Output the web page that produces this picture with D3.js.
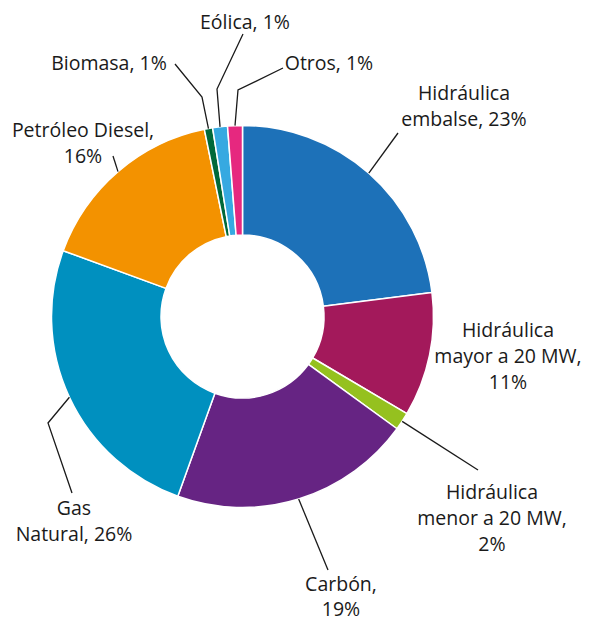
<!DOCTYPE html>
<html>
<head>
<meta charset="utf-8">
<script src="https://cdn.jsdelivr.net/npm/d3@7"></script>
<style>
  body { margin: 0; background: #fff; }
  svg text { font-family: "Open Sans", "Noto Sans", sans-serif; font-size: 19.5px; fill: #1a1a1a; }
</style>
</head>
<body>
<svg width="591" height="622"></svg>
<script>
// slices, clockwise from 12 o'clock
var categories = ["Hidráulica embalse", "Hidráulica mayor a 20 MW", "Hidráulica menor a 20 MW",
  "Carbón", "Gas Natural", "Petróleo Diesel", "Biomasa", "Eólica", "Otros"];
// share of each slice (%)
var shares = [23.0, 10.5, 1.5, 20.5, 25.1, 16.2, 0.7, 1.25, 1.25];
// percentages printed in the labels
var pctLabels = ["23%", "11%", "2%", "19%", "26%", "16%", "1%", "1%", "1%"];
// label lines as printed
var labelLines = [
  ["Hidráulica", "embalse, 23%"],
  ["Hidráulica", "mayor a 20 MW,", "11%"],
  ["Hidráulica", "menor a 20 MW,", "2%"],
  ["Carbón,", "19%"],
  ["Gas", "Natural, 26%"],
  ["Petróleo Diesel,", "16%"],
  ["Biomasa, 1%"],
  ["Eólica, 1%"],
  ["Otros, 1%"]
];
var colors = ["#1d71b8", "#a3195b", "#95c11f", "#662483", "#0090bf", "#f39200", "#00693a", "#36a9e1", "#e6287f"];

var svg = d3.select("svg");
var cx = 242.5, cy = 316.5, rOuter = 191, rInner = 81.5;
var lineH = 26;

// where each label sits (centre x, first baseline) and the bends of its leader line
var layout = [
  { x: 464, y: 100, leader: [[398, 133]] },
  { x: 508, y: 337, leader: null },
  { x: 492, y: 499, leader: [[478, 470]] },
  { x: 341, y: 591, lh: 25, leader: [[328, 570]] },
  { x: 74, y: 515, leader: [[48, 423], [72, 493]] },
  { x: 83, y: 137, leader: [[113, 156]] },
  { x: 109, y: 70, leader: [[202, 97], [175, 64]] },
  { x: 245, y: 29, leader: [[217, 89], [243, 34]] },
  { x: 329, y: 70, leader: [[238, 90], [283, 68]] }
];

var pie = d3.pie().sort(null).value(function (d) { return d; });
var arcs = pie(shares);

var arc = d3.arc().innerRadius(rInner).outerRadius(rOuter);

var g = svg.append("g").attr("transform", "translate(" + cx + "," + cy + ")");

g.selectAll("path.slice")
  .data(arcs)
  .enter()
  .append("path")
  .attr("class", "slice")
  .attr("d", arc)
  .attr("fill", function (d, i) { return colors[i]; })
  .attr("stroke", "#fff")
  .attr("stroke-width", 1.5)
  .attr("stroke-linejoin", "round");

// leader lines start on the outer rim at the middle of the slice
var line = d3.line();
arcs.forEach(function (d, i) {
  var lay = layout[i];
  if (!lay.leader) return;
  var a = (d.startAngle + d.endAngle) / 2;
  var start = [cx + rOuter * Math.sin(a), cy - rOuter * Math.cos(a)];
  svg.append("path")
    .attr("d", line([start].concat(lay.leader)))
    .attr("fill", "none")
    .attr("stroke", "#1a1a1a")
    .attr("stroke-width", 1.3);
});

// labels
layout.forEach(function (lay, i) {
  var t = svg.append("text")
    .attr("text-anchor", "middle")
    .attr("x", lay.x)
    .attr("y", lay.y);
  labelLines[i].forEach(function (s, j) {
    t.append("tspan")
      .attr("x", lay.x)
      .attr("y", lay.y + j * (lay.lh || lineH))
      .text(s);
  });
});
</script>
</body>
</html>
